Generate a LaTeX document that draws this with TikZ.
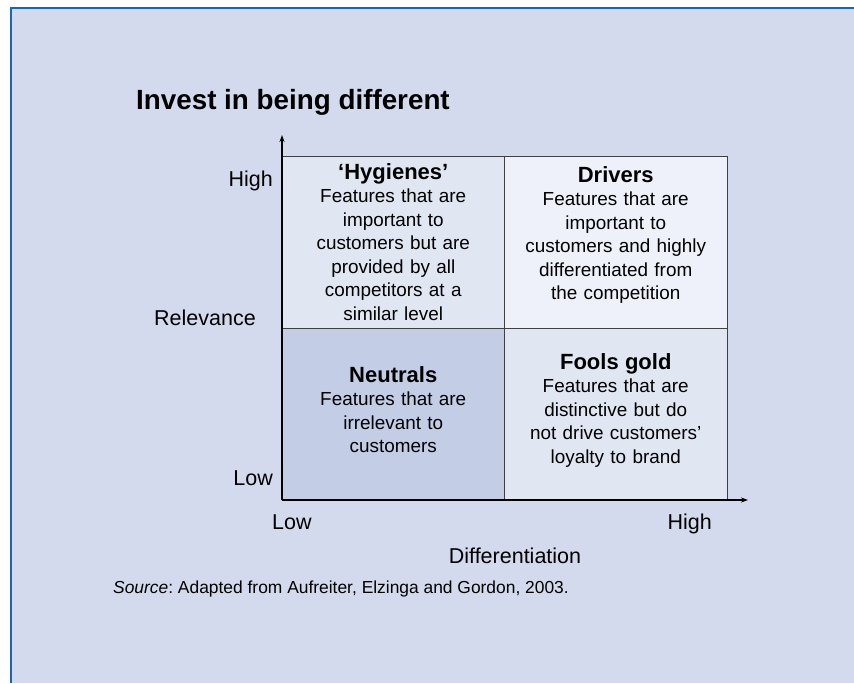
\documentclass[tikz,border=0pt]{standalone}
\usepackage{fontspec}
\setmainfont{Liberation Sans}
\usepackage{tikz}
\usetikzlibrary{arrows.meta, positioning}
\frenchspacing

\definecolor{panelbg}{HTML}{D4DAED}
\definecolor{panelblue}{HTML}{1E64B4}
\definecolor{cellmid}{HTML}{E1E6F3}
\definecolor{cellhigh}{HTML}{EEF1F9}
\definecolor{celllow}{HTML}{C3CDE6}

\begin{document}
\begin{tikzpicture}[x=1pt, y=-1pt, >={Stealth[length=7pt, width=5pt]},
    every node/.style={align=center, inner sep=0pt},
    cell/.style={draw=black!75, line width=0.9pt, minimum width=222.5pt, minimum height=172pt},
    celltext/.style={text width=218pt, anchor=base, font=\fontsize{18.9}{23.5}\selectfont},
    axislabel/.style={font=\fontsize{21.5}{24}\selectfont}]
    \useasboundingbox ({0},{0}) rectangle ({854},{683});
    \fill[white] ({0},{0}) rectangle ({854},{683});
    \fill[panelbg] ({11},{8}) rectangle ({854},{683});
    \draw[panelblue, line width=2pt] ({11},{683}) -- ({11},{8}) -- ({854},{8});

    \node[anchor=base west, font=\fontsize{27.8}{34}\selectfont\bfseries] (title) at ({136},{109}) {Invest in being different};

    % quadrants
    \node[cell, fill=cellmid] (hyg) at ({393.25},{242}) {};
    \node[cell, fill=cellhigh] (drv) at ({615.75},{242}) {};
    \node[cell, fill=celllow] (neu) at ({393.25},{414}) {};
    \node[cell, fill=cellmid] (fool) at ({615.75},{414}) {};

    \node[celltext] (hygtext) at ({393.25},{179}) {{\fontsize{22}{23.5}\selectfont\bfseries ‘Hygienes’}\\Features that are\\important to\\customers but are\\provided by all\\competitors at a\\similar level};
    \node[celltext] (drvtext) at ({615.75},{182}) {{\fontsize{22}{23.5}\selectfont\bfseries Drivers}\\Features that are\\important to\\customers and highly\\differentiated from\\the competition};
    \node[celltext] (neutext) at ({393.25},{382}) {{\fontsize{22}{23.5}\selectfont\bfseries Neutrals}\\Features that are\\irrelevant to\\customers};
    \node[celltext] (fooltext) at ({615.75},{369}) {{\fontsize{22}{23.5}\selectfont\bfseries Fools gold}\\Features that are\\distinctive but do\\not drive customers’\\loyalty to brand};

    % axes
    \coordinate (origin) at ({282},{500});
    \coordinate (ytip) at ({282},{135});
    \coordinate (xtip) at ({748},{500});
    \draw[->, line width=1.2pt] (origin) -- (ytip);
    \draw[->, line width=1.2pt] (origin) -- (xtip);

    \node[axislabel, anchor=base east] (yhigh) at ({273},{186}) {High};
    \node[axislabel, anchor=base east] (ylabel) at ({256},{325}) {Relevance};
    \node[axislabel, anchor=base east] (ylow) at ({273},{485}) {Low};
    \node[axislabel, anchor=base west] (xlow) at ({272},{529}) {Low};
    \node[axislabel, anchor=base east] (xhigh) at ({712},{529}) {High};
    \node[axislabel, anchor=base] (xlabel) at ({515},{563}) {Differentiation};

    \node[anchor=base west, font=\fontsize{17.4}{21}\selectfont] (source) at ({113},{593}) {\textit{Source}: Adapted from Aufreiter, Elzinga and Gordon, 2003.};
\end{tikzpicture}
\end{document}
